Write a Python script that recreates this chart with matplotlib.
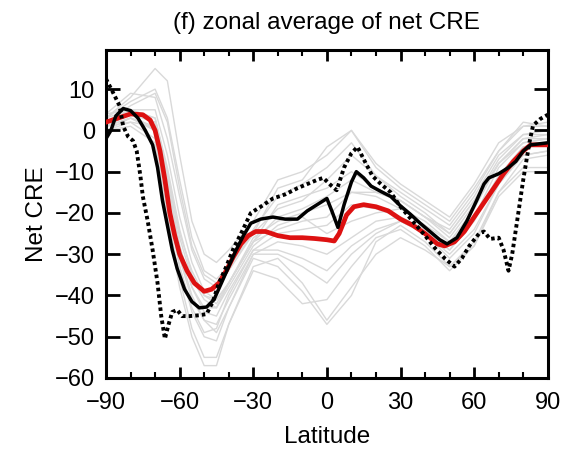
import matplotlib
matplotlib.use('Agg')
import matplotlib.pyplot as plt
from matplotlib.ticker import MultipleLocator
import numpy as np

plt.rcParams['font.family'] = ['Liberation Sans', 'DejaVu Sans']

# model curves on a coarse latitude grid
lat_models = [-90, -80, -70, -65, -60, -55, -50, -45, -40, -30, -20, -10,
              0, 10, 20, 30, 40, 50, 60, 70, 80, 90]
models = [
    [3, 8, 15, 12, -6, -22, -30, -32, -29, -22, -12, -10, -6, 0, -9, -14, -18, -22, -14, -5, 1, 1],
    [2, 6, 9, 2, -14, -28, -35, -37, -33, -25, -19, -17, -12, -6, -11, -16, -20, -25, -17, -8, -2, -1],
    [1, 4, 2, -12, -28, -38, -43, -43, -37, -27, -24, -22, -21, -15, -16, -19, -23, -27, -21, -11, -4, -3],
    [0, 3, 0, -18, -33, -43, -49, -48, -40, -29, -29, -31, -34, -28, -24, -22, -25, -30, -24, -13, -6, -5],
    [4, 5, 3, -10, -25, -34, -40, -42, -37, -26, -22, -20, -18, -15, -15, -17, -21, -24, -16, -6, -1, 0],
    [0, 2, -2, -20, -36, -48, -55, -55, -47, -33, -31, -37, -46, -38, -30, -26, -29, -33, -27, -15, -9, -9],
    [1, 3, 1, -15, -30, -40, -46, -49, -43, -30, -27, -28, -30, -26, -22, -21, -24, -29, -22, -11, -4, -3],
    [3, 7, 10, 3, -12, -26, -34, -36, -33, -24, -16, -13, -9, -3, -11, -15, -19, -23, -15, -5, 2, 1],
    [2, 4, 0, -17, -33, -44, -50, -51, -43, -31, -33, -39, -47, -40, -27, -23, -27, -33, -28, -16, -10, -10],
    [1, 2, 1, -13, -28, -38, -44, -45, -39, -29, -25, -24, -23, -18, -19, -21, -24, -29, -21, -9, -3, -2],
    [3, 5, 5, -6, -21, -32, -39, -41, -37, -27, -18, -16, -14, -10, -14, -17, -21, -25, -17, -7, -1, -1],
    [0, 1, -3, -22, -38, -50, -57, -57, -47, -34, -36, -42, -41, -33, -26, -24, -28, -34, -28, -15, -7, -6],
    [2, 4, 2, -11, -26, -36, -41, -43, -38, -28, -23, -21, -25, -22, -20, -19, -22, -27, -19, -8, -2, -2],
    [1, 3, 0, -16, -31, -41, -46, -47, -41, -30, -30, -33, -37, -30, -25, -22, -25, -31, -25, -13, -6, -5],
    [4, 9, 8, -2, -16, -29, -36, -38, -34, -25, -14, -12, -4, 0, -8, -13, -17, -21, -13, -3, 1, 2],
    [2, 5, 3, -9, -24, -35, -40, -41, -37, -27, -21, -19, -16, -12, -15, -17, -21, -26, -18, -8, -3, -2],
]

# multi-model mean
lat_mean = [-90, -85, -80, -75, -72, -70, -68, -66, -64, -62, -60, -57, -54, -50,
            -47, -44, -41, -38, -35, -32, -29, -25, -20, -15, -10, -5, 0, 3, 5,
            8, 11, 15, 20, 25, 30, 35, 40, 45, 48, 52, 56, 60, 64, 68, 72, 76,
            80, 83, 90]
cre_mean = [2, 3, 4, 3.8, 2.5, 0, -5, -12, -20, -25.5, -30, -34, -37, -39,
            -38.5, -37, -34, -30.5, -27.5, -25.5, -24.5, -24.5, -25.5, -26, -26,
            -26.2, -26.5, -26.8, -25, -20.5, -18.5, -18, -18.5, -19.5, -21.5,
            -23, -25, -27.5, -28, -27, -24.5, -21, -17.5, -14, -10.5, -7.5, -5,
            -3.5, -3.5]

# observations (solid)
lat_obs = [-90, -88, -86, -83, -80, -77, -74, -71, -69, -67, -65, -63, -61, -58,
           -55, -52, -49, -46, -43, -40, -37, -34, -31, -27, -22, -17, -12, -8,
           -4, 0, 2, 4.5, 7, 10, 12, 15, 18, 22, 26, 30, 34, 38, 42, 46, 49, 53,
           57, 61, 64, 66, 70, 74, 77, 80, 83, 90]
cre_obs = [-2, 0, 3.5, 5.3, 4.8, 3, 0, -3.5, -9, -17, -23, -29, -33.5, -38.5,
           -41.5, -43, -42.8, -41, -37, -33, -29, -25.5, -22.5, -21.5, -21,
           -21.5, -21.5, -19.5, -18, -16.5, -19.5, -23.5, -18, -12.5, -10,
           -11.5, -13.5, -14.8, -16, -18.3, -20.3, -22.5, -24.5, -26.5, -27.5,
           -26, -22, -17, -13, -11.5, -10.5, -9, -7.5, -5, -3.5, -3]

# second observational estimate (dotted)
lat_obs2 = [-90, -87, -84.5, -83, -81, -79, -77.5, -76, -75, -73, -71, -69,
            -67.5, -66, -64.5, -63, -61, -59, -56, -52, -49, -46.5, -44, -41,
            -38, -35, -31, -27, -22, -17, -12, -8, -4, -1.5, 2, 4, 7, 10, 12.5,
            15, 18.5, 22, 26, 30, 35, 40, 44, 48, 52, 55, 58, 62, 64, 66.5, 70,
            72, 74, 75.5, 78, 80, 82.5, 84, 87, 90]
cre_obs2 = [12.5, 9, 6, 1, -1.5, -2.5, -5, -11, -16, -22, -29, -37, -45, -50.5,
            -47, -44, -43.5, -45, -45, -44.8, -44.5, -41.5, -37, -33, -28.5, -25,
            -20, -18.5, -16.5, -15.5, -14, -13, -12, -11.5, -13.5, -14.5, -9,
            -5.5, -4, -7, -11, -13, -15, -18.5, -22, -25.5, -28.5, -31, -33, -31,
            -28, -25, -24.5, -26.3, -26, -29, -34, -30, -20, -12, -3, 1.2, 2.8,
            3.8]

fig = plt.figure(figsize=(5.7, 4.5), dpi=100)
ax = fig.add_axes([0.186, 0.16, 0.775, 0.729])

for vals in models:
    ax.plot(lat_models, vals, color='#d9d9d9', lw=1.0, zorder=1)

ax.plot(lat_mean, cre_mean, color='#dd1111', lw=3.4, zorder=3)
ax.plot(lat_obs, cre_obs, color='black', lw=2.5, zorder=4)
ax.plot(lat_obs2, cre_obs2, color='black', lw=2.8, ls=(0, (0.9, 0.8)), zorder=4)

ax.set_xlim(-90, 90)
ax.set_ylim(-60, 19.5)
ax.set_xticks(np.arange(-90, 91, 30))
ax.xaxis.set_minor_locator(MultipleLocator(10))
ax.set_yticks(np.arange(-60, 11, 10))

ax.tick_params(which='both', direction='in', top=True, right=True, width=2)
ax.tick_params(axis='x', which='major', length=8, pad=10, labelsize=17)
ax.tick_params(axis='x', which='minor', length=4.5, width=1.5)
ax.tick_params(axis='y', which='major', length=10, pad=8, labelsize=17)
for s in ax.spines.values():
    s.set_linewidth(2.2)

ax.set_title('(f) zonal average of net CRE', fontsize=17.5, pad=15)
ax.set_xlabel('Latitude', fontsize=17.5, labelpad=9)
ax.set_ylabel('Net CRE', fontsize=17.5, labelpad=5)

fig.savefig('out.png', dpi=100)
